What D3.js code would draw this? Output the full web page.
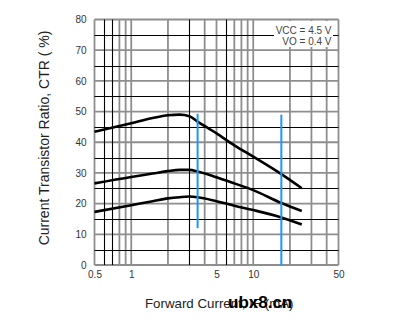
<!DOCTYPE html>
<html>
<head>
<meta charset="utf-8">
<script src="https://cdn.jsdelivr.net/npm/d3@7"></script>
<style>
  html, body { margin: 0; padding: 0; background: #fff; }
  svg { display: block; font-family: "Liberation Sans", Arial, sans-serif; }
</style>
</head>
<body>
<svg id="chart" width="409" height="330"></svg>
<script>
// ---- data ----
const currentIF = [0.5, 1, 1.5, 2, 2.5, 3, 3.5, 5, 7, 10, 17, 25];
const ctrHigh   = [43.4, 46.2, 47.9, 48.8, 49.0, 48.5, 46.7, 42.9, 39.0, 35.3, 29.6, 25.0];
const ctrMid    = [26.6, 28.7, 29.8, 30.6, 31.0, 31.0, 30.5, 28.6, 26.6, 24.4, 20.2, 17.6];
const ctrLow    = [17.3, 19.5, 20.8, 21.7, 22.1, 22.3, 22.1, 20.8, 19.3, 17.9, 15.5, 13.2];
const markerIF  = [3.5, 17];
const markerTop = [49.3, 49.0];
const markerBot = [12, 0];
const xTicks = [0.5, 1, 5, 10, 50];
const yTicks = [0, 10, 20, 30, 40, 50, 60, 70, 80];
const gridX = [0.5, 0.6, 0.7, 0.8, 0.9, 1, 2, 3, 4, 5, 6, 7, 8, 9, 10, 20, 30, 40, 50];
const gridXDark = [0.6, 0.7, 3, 6];
const gridY = [0, 5, 10, 15, 20, 25, 30, 35, 40, 45, 50, 55, 60, 65, 70, 75, 80];
const conditions = ["VCC = 4.5 V", "VO = 0.4 V"];

// ---- scales ----
const svg = d3.select("#chart");
const x = d3.scaleLog().domain([0.5, 50]).range([94.5, 338.5]);
const y = d3.scaleLinear().domain([0, 80]).range([265, 19.5]);

const GRAY = "#8e8e8e";
const grid = svg.append("g");

// light grid (gray, thicker)
grid.selectAll(".gx").data(gridX.filter(d => !gridXDark.includes(d))).join("line")
  .attr("x1", d => x(d)).attr("x2", d => x(d))
  .attr("y1", y(0)).attr("y2", y(80))
  .attr("stroke", GRAY).attr("stroke-width", 1.8);
grid.selectAll(".gy").data(gridY.filter(d => d % 10 === 0)).join("line")
  .attr("y1", d => y(d)).attr("y2", d => y(d))
  .attr("x1", x(0.5)).attr("x2", x(50))
  .attr("stroke", GRAY).attr("stroke-width", 1.8);
// dark grid
grid.selectAll(".dx").data(gridXDark).join("line")
  .attr("x1", d => Math.round(x(d)) + 0.5).attr("x2", d => Math.round(x(d)) + 0.5)
  .attr("y1", y(0)).attr("y2", y(80))
  .attr("stroke", "#000").attr("stroke-width", 1.1);
grid.selectAll(".dy").data(gridY.filter(d => d % 10 !== 0)).join("line")
  .attr("y1", d => Math.round(y(d)) + 0.5).attr("y2", d => Math.round(y(d)) + 0.5)
  .attr("x1", x(0.5)).attr("x2", x(50))
  .attr("stroke", "#000").attr("stroke-width", 1.1);

// condition box
svg.append("rect").attr("x", 274).attr("y", 21).attr("width", 59).attr("height", 26).attr("fill", "#fff");
svg.selectAll(".cond").data(conditions).join("text")
  .attr("x", 331.5).attr("y", (d, i) => 33.5 + i * 11)
  .attr("text-anchor", "end").attr("font-size", 10).attr("fill", "#444")
  .text(d => d);

// axes (labels only)
const ax = svg.append("g").attr("transform", `translate(0,${y(0) + 3})`)
  .call(d3.axisBottom(x).tickValues(xTicks).tickSize(0).tickFormat(d3.format("")));
ax.select(".domain").remove();
ax.selectAll("text").attr("font-size", 10).attr("fill", "#333").attr("font-family", "Liberation Sans, Arial, sans-serif");

const ay = svg.append("g").attr("transform", `translate(${x(0.5) - 5},0)`)
  .call(d3.axisLeft(y).tickValues(yTicks).tickSize(0).tickFormat(d3.format("d")));
ay.select(".domain").remove();
ay.selectAll("text").attr("font-size", 10).attr("fill", "#333").attr("font-family", "Liberation Sans, Arial, sans-serif");

// curves
const line = d3.line().x((d, i) => x(currentIF[i])).y(d => y(d)).curve(d3.curveMonotoneX);
svg.selectAll(".curve").data([ctrHigh, ctrMid, ctrLow]).join("path")
  .attr("d", d => line(d)).attr("fill", "none")
  .attr("stroke", "#000").attr("stroke-width", 2.6).attr("stroke-linecap", "butt");

// blue markers
svg.selectAll(".mk").data(markerIF).join("line")
  .attr("x1", d => x(d)).attr("x2", d => x(d))
  .attr("y1", (d, i) => y(markerTop[i])).attr("y2", (d, i) => y(markerBot[i]))
  .attr("stroke", "#1a98f5").attr("stroke-width", 2);

// axis titles
svg.append("text").attr("transform", "translate(48.5,138) rotate(-90)")
  .attr("text-anchor", "middle").attr("font-size", 14).attr("fill", "#222")
  .text("Current Transistor Ratio, CTR ( %)");
svg.append("text").attr("x", 145).attr("y", 308)
  .attr("font-size", 13.3).attr("fill", "#222")
  .text("Forward Current, IF (mA)");
// watermark
svg.append("text").attr("x", 228).attr("y", 307.5)
  .attr("font-size", 17).attr("font-weight", "bold").attr("fill", "#000")
  .text("ubx8.cn");
</script>
</body>
</html>
